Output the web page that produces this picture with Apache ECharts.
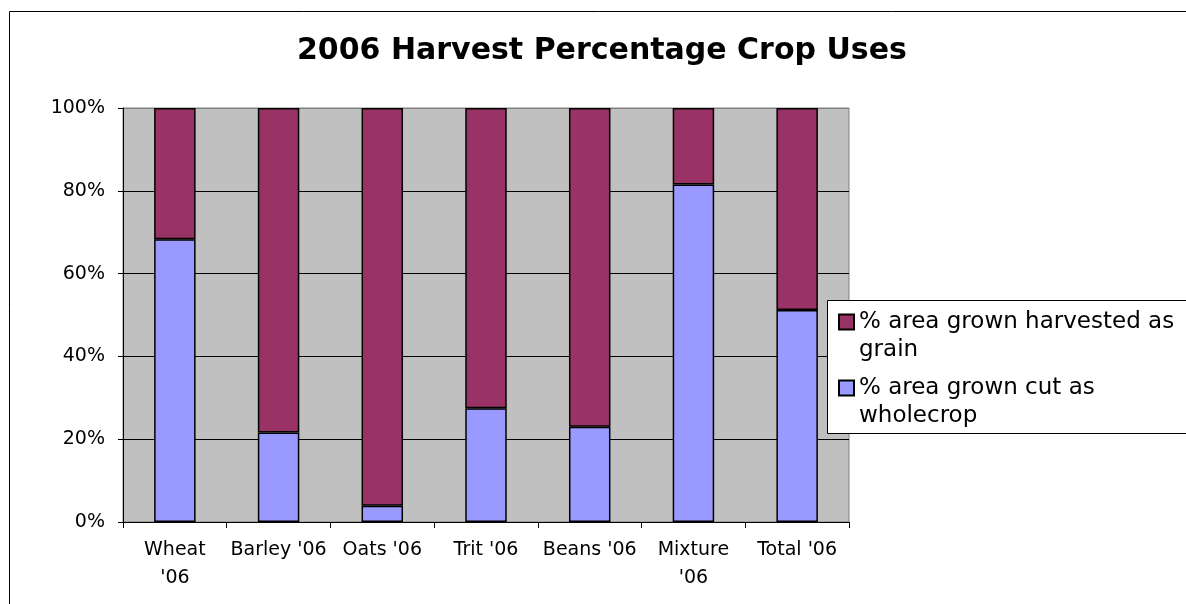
<!DOCTYPE html>
<html>
<head>
<meta charset="utf-8">
<script src="https://cdn.jsdelivr.net/npm/echarts@6/dist/echarts.min.js"></script>
<style>
html,body{margin:0;padding:0;background:#fff;}
#chart{width:1186px;height:604px;}
</style>
</head>
<body>
<div id="chart"></div>
<script>
const titleText = "2006 Harvest Percentage Crop Uses";
const categories = ["Wheat\n'06", "Barley '06", "Oats '06", "Trit '06", "Beans '06", "Mixture\n'06", "Total '06"];
const grainName = "% area grown harvested as grain";
const wholecropName = "% area grown cut as wholecrop";
const wholecrop = [68.3, 21.6, 3.9, 27.5, 23.0, 81.5, 51.2];
const grain = [31.7, 78.4, 96.1, 72.5, 77.0, 18.5, 48.8];
const yTicks = [0, 20, 40, 60, 80, 100];

const FONT = "DejaVu Sans";
const chart = echarts.init(document.getElementById('chart'), null, {renderer: 'canvas'});

const legendText = {
  fontFamily: FONT, fontSize: 23, color: '#000', lineHeight: 28,
  width: 330, overflow: 'break'
};
// leading empty line keeps the icon level with the first text line
const legendFormatter = function (name) { return '\n' + name; };

chart.setOption({
  animation: false,
  backgroundColor: '#fff',
  title: {
    text: titleText, left: 292, top: 31,
    textStyle: {fontFamily: FONT, fontSize: 30, fontWeight: 'bold', color: '#000'}
  },
  graphic: [
    {type: 'rect', z: 0, silent: true, shape: {x: 9.5, y: 11.5, width: 1300, height: 800},
     style: {fill: null, stroke: '#000', lineWidth: 1}},
    {type: 'rect', z: 100, zlevel: 0, silent: true, shape: {x: 827.5, y: 300.5, width: 400, height: 133},
     style: {fill: '#fff', stroke: '#000', lineWidth: 1}}
  ],
  legend: [
    {data: [grainName], orient: 'vertical', left: 838, top: 280, padding: 0, z: 200,
     itemWidth: 15, itemHeight: 15, icon: 'rect', selectedMode: false,
     formatter: legendFormatter, textStyle: legendText},
    {data: [wholecropName], orient: 'vertical', left: 838, top: 346, padding: 0, z: 200,
     itemWidth: 15, itemHeight: 15, icon: 'rect', selectedMode: false,
     formatter: legendFormatter, textStyle: legendText}
  ],
  grid: {
    left: 123, top: 108, width: 726, height: 414,
    show: true, backgroundColor: '#C0C0C0', borderColor: '#808080', borderWidth: 1
  },
  xAxis: {
    type: 'category', data: categories,
    axisLine: {lineStyle: {color: '#000', width: 1}},
    axisTick: {show: true, length: 6, lineStyle: {color: '#000'}},
    axisLabel: {fontFamily: FONT, fontSize: 19, color: '#000', lineHeight: 28, margin: 14, interval: 0},
    splitLine: {show: false}
  },
  yAxis: {
    type: 'value', min: 0, max: 100, interval: 20,
    axisLine: {show: true, lineStyle: {color: '#000', width: 1}},
    axisTick: {show: true, length: 5, lineStyle: {color: '#000'}},
    axisLabel: {fontFamily: FONT, fontSize: 19, color: '#000', margin: 18,
      formatter: function (v) { return yTicks.indexOf(v) >= 0 ? v + '%' : ''; }},
    splitLine: {show: true, lineStyle: {color: ['#000', '#000', '#000', '#000', '#000', '#808080'], width: 1}}
  },
  series: [
    {name: wholecropName, type: 'bar', stack: 'total', data: wholecrop, barCategoryGap: '60%',
     itemStyle: {color: '#9999FF', borderColor: '#000', borderWidth: 1.5}},
    {name: grainName, type: 'bar', stack: 'total', data: grain, barCategoryGap: '60%',
     itemStyle: {color: '#993366', borderColor: '#000', borderWidth: 1.5}}
  ]
});
</script>
</body>
</html>
